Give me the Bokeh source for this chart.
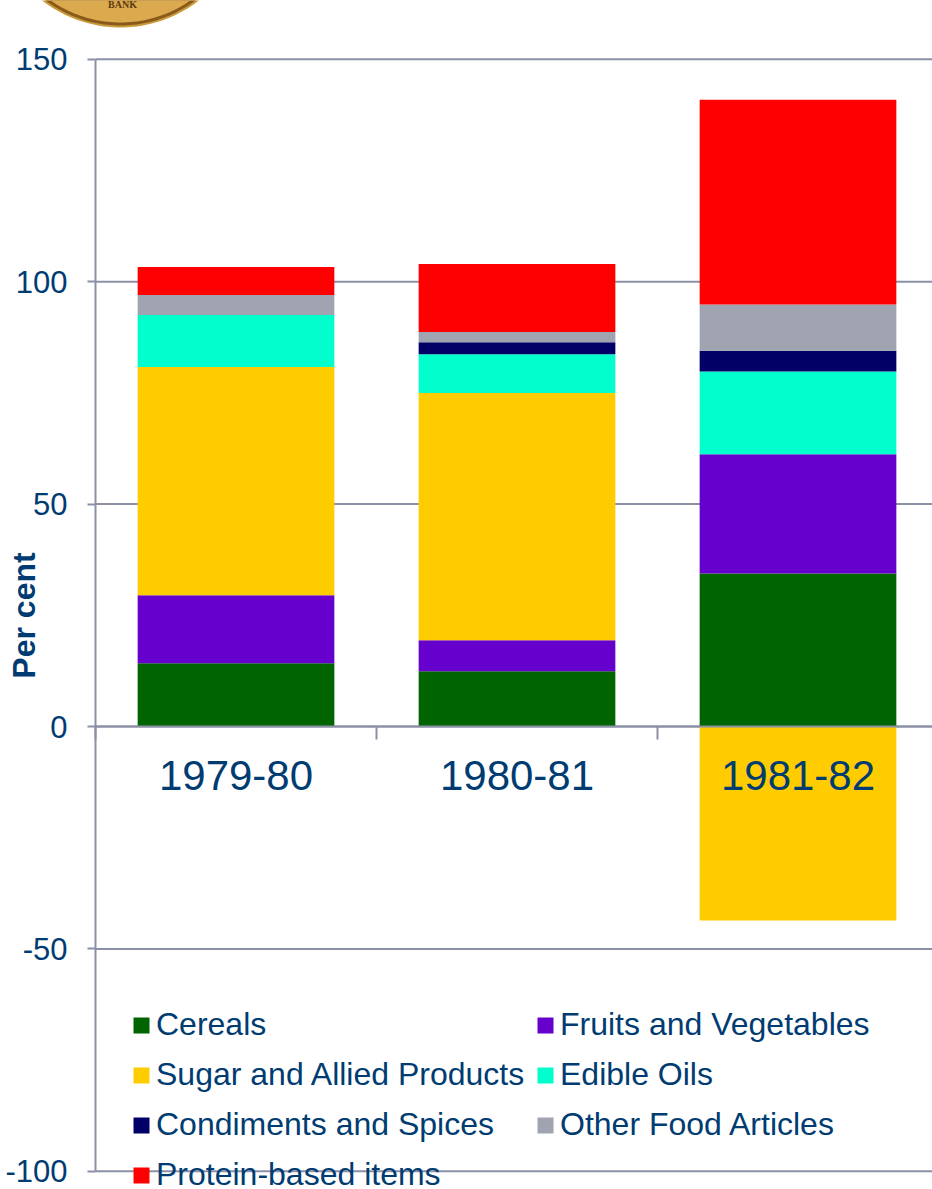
import numpy as np
from bokeh.embed import file_html
from bokeh.resources import INLINE
from bokeh.plotting import figure
from bokeh.models import (Range1d, LinearAxis, FixedTicker, Legend, LegendItem, Label,
                          PolyAnnotation)

years = ["1979-80", "1980-81", "1981-82"]
series = ["Cereals", "Fruits and Vegetables", "Sugar and Allied Products", "Edible Oils",
          "Condiments and Spices", "Other Food Articles", "Protein-based items"]
colors = ["#006400", "#6600cc", "#ffcc00", "#00ffcc", "#000066", "#a0a3b0", "#ff0000"]
cereals = [14.2, 12.4, 34.4]
fruits = [15.3, 7.0, 26.8]
sugar = [51.3, 55.6, -43.6]
oils = [11.7, 8.7, 18.6]
condiments = [0.0, 2.7, 4.7]
other = [4.5, 2.3, 10.4]
protein = [6.3, 15.3, 46.0]
y_ticks = [-100, -50, 0, 50, 100, 150]
y_labels = ["-100", "-50", "0", "50", "100", "150"]

TEXT = "#003c71"
LINE = "#8b90a6"
FONT = "Liberation Sans"

W, H = 932, 1189
PX_X = 281.0      # pixels per category
PX_Y = 1112 / 250 # pixels per percentage point
x0_px, y0_px = 95, 726

x_range = Range1d(-x0_px / PX_X, (W - x0_px) / PX_X)
y_range = Range1d(-(H - y0_px) / PX_Y, y0_px / PX_Y)

p = figure(width=W, height=H, output_backend="svg", toolbar_location=None,
           x_range=x_range, y_range=y_range,
           min_border_left=0, min_border_top=0, min_border_bottom=0, min_border_right=0,
           x_axis_location=None, y_axis_location=None, outline_line_color=None)
p.xgrid.visible = False
p.ygrid.visible = False

# horizontal grid lines, starting at the y axis
p.segment(x0=[0] * len(y_ticks), x1=[x_range.end] * len(y_ticks), y0=y_ticks, y1=y_ticks,
          line_color=LINE, line_width=2, level="underlay")

# y axis
yax = LinearAxis(ticker=FixedTicker(ticks=y_ticks), fixed_location=0, bounds=(-100, 150),
                 major_label_overrides={t: s for t, s in zip(y_ticks, y_labels)})
yax.axis_line_color = LINE
yax.axis_line_width = 2
yax.major_tick_line_color = LINE
yax.major_tick_line_width = 2
yax.major_tick_in = 0
yax.major_tick_out = 8
yax.minor_tick_line_color = None
yax.major_label_standoff = 20
yax.major_label_text_font = FONT
yax.major_label_text_font_size = "31px"
yax.major_label_text_color = TEXT
p.add_layout(yax, "left")

# x axis: ticks at category boundaries
xax = LinearAxis(ticker=FixedTicker(ticks=[0, 1, 2]), fixed_location=0, bounds=(0, x_range.end))
xax.axis_line_color = LINE
xax.axis_line_width = 2
xax.major_tick_line_color = LINE
xax.major_tick_line_width = 2
xax.major_tick_in = 0
xax.major_tick_out = 13
xax.minor_tick_line_color = None
xax.major_label_text_font_size = "0px"
xax.major_label_text_color = None
p.add_layout(xax, "below")

# x labels at category centres
centres = [i + 0.5 for i in range(len(years))]
xlab = LinearAxis(ticker=FixedTicker(ticks=centres), fixed_location=0,
                  major_label_overrides={c: y for c, y in zip(centres, years)})
xlab.axis_line_color = None
xlab.major_tick_line_color = None
xlab.minor_tick_line_color = None
xlab.major_label_standoff = 28
xlab.major_label_text_font = FONT
xlab.major_label_text_font_size = "42px"
xlab.major_label_text_color = TEXT
p.add_layout(xlab, "below")

# bars
values = [cereals, fruits, sugar, oils, condiments, other, protein]
pos = np.zeros(3)
neg = np.zeros(3)
renderers = []
for v, c in zip(values, colors):
    v = np.array(v, dtype=float)
    bottom = np.where(v >= 0, pos, neg)
    top = bottom + v
    r = p.vbar(x=centres, width=0.7, bottom=bottom, top=top, fill_color=c, line_color=None)
    renderers.append(r)
    pos = np.where(v >= 0, top, pos)
    neg = np.where(v < 0, top, neg)

# legend: one block for each column
def make_legend(idx, loc):
    return Legend(items=[LegendItem(label=series[i], renderers=[renderers[i]]) for i in idx],
                  location=loc, padding=0, margin=0, spacing=13,
                  glyph_width=20, glyph_height=20, label_standoff=5,
                  background_fill_alpha=0, border_line_color=None,
                  label_text_font=FONT, label_text_font_size="32px", label_text_color=TEXT)
p.add_layout(make_legend([0, 2, 4, 6], (131, -4)), "center")
p.add_layout(make_legend([1, 3, 5], (535, 46)), "center")

# axis title
p.add_layout(Label(x=23, y=H - 615, x_units="screen", y_units="screen", text="Per cent", angle=90,
                   angle_units="deg", text_align="center", text_baseline="middle",
                   text_font=FONT, text_font_style="bold", text_font_size="32px", text_color=TEXT))

# coin logo peeking in at the top
def coin(r):
    t = np.linspace(0, np.pi, 60)
    return list(120 + r * np.cos(t)), list(27 - 127 + r * np.sin(t))
for r, c in [(127, "#c99a3a"), (125, "#8a5a1a"), (122, "#dba94e")]:
    xs, ys = coin(r)
    p.add_layout(PolyAnnotation(xs=xs, ys=[H - y for y in ys], xs_units="screen", ys_units="screen",
                                fill_color=c, fill_alpha=1, line_color=None))
p.add_layout(Label(x=122, y=H - 4, x_units="screen", y_units="screen", text="BANK",
                   text_align="center", text_baseline="middle", text_font="Liberation Serif",
                   text_font_style="bold", text_font_size="10px", text_color="#5a3a10"))

open("out.html", "w").write(file_html(p, INLINE))
